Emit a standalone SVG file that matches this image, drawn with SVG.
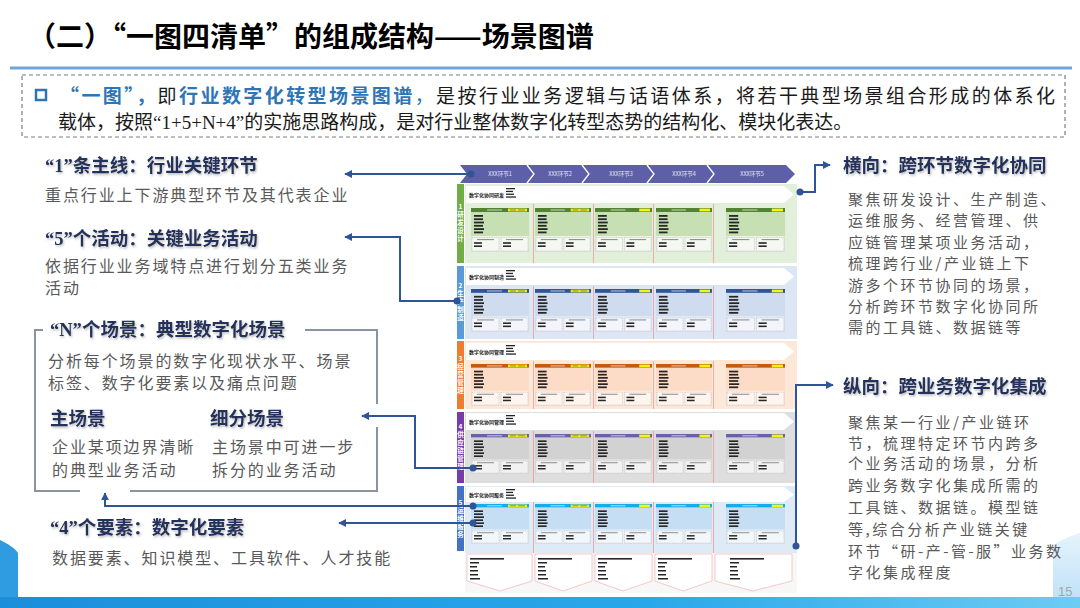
<svg xmlns="http://www.w3.org/2000/svg" xmlns:xlink="http://www.w3.org/1999/xlink" width="1080" height="608" viewBox="0 0 1080 608">
<style>
.title{font-family:"Noto Sans CJK SC",sans-serif;font-weight:700;font-size:28px;fill:#000}
.intro{font-family:"Noto Sans CJK SC",sans-serif;font-size:19px;fill:#1a1a1a}
.blue{fill:#2e75b6;font-weight:700}
.ser{font-family:"Liberation Serif","Noto Sans CJK SC",serif}
.hd{font-family:"Noto Sans CJK SC",sans-serif;font-weight:700;font-size:18.5px;fill:#22325c;filter:url(#sh)}
.hdq{font-family:"Liberation Serif",serif;font-weight:700}
.body{font-family:"Noto Sans CJK SC",sans-serif;font-size:16px;fill:#595959;letter-spacing:1.9px}
.rbody{font-family:"Noto Sans CJK SC",sans-serif;font-size:15px;fill:#595959;letter-spacing:2.5px}
.conn{fill:none;stroke:#2f5597;stroke-width:2}
.dot{fill:#2f5597}
.frame{fill:none;stroke:#8a93a0;stroke-width:2}
.chev{font-family:"Noto Sans CJK SC",sans-serif;font-size:5.5px;fill:#e6e6f5;text-anchor:middle}
.vlab{font-family:"Noto Sans CJK SC",sans-serif;font-size:6.5px;fill:#fff;text-anchor:middle;font-weight:700}
.rh{font-family:"Noto Sans CJK SC",sans-serif;font-size:5px;fill:#1a1a1a;font-weight:700}
.banner{fill:#ffffff}
.sep{stroke:#ec9a9a;stroke-width:0.8}
.bar{fill:#262626}
</style>
<defs>
<filter id="sh" x="-5%" y="-20%" width="110%" height="150%"><feDropShadow dx="1" dy="1.5" stdDeviation="1" flood-color="#808080" flood-opacity="0.55"/></filter>
<linearGradient id="band" x1="0" y1="0" x2="1" y2="0"><stop offset="0" stop-color="#1b8edb"/><stop offset="0.6" stop-color="#2aa7ea"/><stop offset="1" stop-color="#6cccf4"/></linearGradient>
<linearGradient id="rpatch" x1="0" y1="0" x2="0" y2="1"><stop offset="0" stop-color="#e6f3fc"/><stop offset="1" stop-color="#bfe2f8"/></linearGradient>
<marker id="ah" viewBox="0 0 10 10" refX="9" refY="5" markerWidth="4" markerHeight="4" orient="auto"><path d="M0,0 L10,5 L0,10 z" fill="#2f5597"/></marker>
<g id="cardBase">
<rect x="0" y="0" width="58" height="44" fill="#ffffff" fill-opacity="0.35" stroke="#b5b5b5" stroke-width="0.4"/>
<rect x="0" y="0" width="58" height="4" fill="currentColor"/>
<rect x="16" y="1.5" width="15" height="1" fill="#ffffff" fill-opacity="0.7"/>
<rect x="0" y="4" width="58" height="24"/>
<rect class="bar" x="3" y="7" width="9" height="1.8"/>
<rect class="bar" x="3" y="10.3" width="9" height="1.8"/>
<rect class="bar" x="3" y="13.6" width="10" height="1.8"/>
<rect class="bar" x="3" y="16.9" width="9" height="1.8"/>
<rect class="bar" x="3" y="20.2" width="10" height="1.8"/>
<rect class="bar" x="3" y="23.5" width="9" height="1.8"/>
<rect x="1" y="29.5" width="27" height="13.5" fill="#ffffff" fill-opacity="0.4" stroke="#9c9c9c" stroke-width="0.4" stroke-dasharray="1 0.7"/>
<rect x="30" y="29.5" width="27" height="13.5" fill="#ffffff" fill-opacity="0.4" stroke="#9c9c9c" stroke-width="0.4" stroke-dasharray="1 0.7"/>
<rect x="6" y="31.2" width="17" height="0.9" fill="#7a7a7a"/>
<rect x="35" y="31.2" width="17" height="0.9" fill="#7a7a7a"/>
<rect class="bar" x="3" y="34.2" width="8" height="1.6"/>
<rect class="bar" x="3" y="37.4" width="8" height="1.6"/>
<rect class="bar" x="32" y="34.2" width="8" height="1.6"/>
<rect class="bar" x="32" y="37.4" width="8" height="1.6"/>
</g>
<symbol id="cardA" viewBox="0 0 58 44" preserveAspectRatio="none">
<use href="#cardBase"/>
<rect x="37" y="0.6" width="19" height="2.8" fill="#eeee10"/>
<rect x="39" y="1.5" width="6" height="1" fill="#8a8a30"/>
<rect x="47" y="1.5" width="7" height="1" fill="#8a8a30"/>
</symbol>
<symbol id="cardB" viewBox="0 0 58 44" preserveAspectRatio="none">
<use href="#cardBase"/>
<rect x="45" y="0.6" width="11" height="2.8" fill="#f5f510"/>
</symbol>
<g id="bullets">
<rect class="bar" x="0" y="0" width="9" height="1.3"/>
<rect class="bar" x="0" y="2.8" width="7" height="1.3"/>
<rect class="bar" x="0" y="5.6" width="8" height="1.3"/>
<rect class="bar" x="0" y="8.4" width="10" height="1.3"/>
</g>
<g id="foot">
<rect class="bar" x="0" y="0" width="34" height="1.6"/>
<rect class="bar" x="0" y="4" width="9" height="1.5"/>
<rect class="bar" x="0" y="8" width="7" height="1.5"/>
<rect class="bar" x="0" y="12" width="8" height="1.5"/>
<rect class="bar" x="0" y="16" width="8" height="1.5"/>
<rect class="bar" x="0" y="20" width="10" height="1.5"/>
</g>
</defs>

<!-- background -->
<rect x="0" y="0" width="1080" height="608" fill="#ffffff"/>
<path d="M0,540 C8,544 15,548 18,553 L18,598 L0,598 Z" fill="#2f9ce2"/>
<path d="M1053,546 C1060,540 1070,536 1080,533 L1080,598 L1053,598 Z" fill="url(#rpatch)"/>
<rect x="0" y="597" width="1080" height="11" fill="url(#band)"/>

<!-- title -->
<g id="title">
<text class="title" x="28" y="47">（二）“一图四清单”的组成结构——场景图谱</text>
<line x1="10" y1="68" x2="1072" y2="68" stroke="#6ea6dc" stroke-width="3"/>
</g>

<!-- intro box -->
<g id="intro">
<rect x="22" y="75" width="1043" height="62" fill="none" stroke="#7f7f7f" stroke-width="1.2" stroke-dasharray="4 3"/>
<rect x="36" y="90" width="10" height="10" fill="none" stroke="#2e75b6" stroke-width="2.5"/>
<text class="intro" x="60" y="103" textLength="995" lengthAdjust="spacing"><tspan class="blue">“一图”，</tspan>即<tspan class="blue">行业数字化转型场景图谱</tspan><tspan fill="#2e75b6">，</tspan>是按行业业务逻辑与话语体系，将若干典型场景组合形成的体系化</text>
<text class="intro" x="58" y="129">载体，按照<tspan class="ser">“1+5+N+4”</tspan>的实施思路构成，是对行业整体数字化转型态势的结构化、模块化表达。</text>
</g>

<!-- left descriptions -->
<g id="node-line">
<text class="hd" x="45" y="172"><tspan class="hdq">“1”</tspan>条主线：行业关键环节</text>
<text class="body" x="45" y="201">重点行业上下游典型环节及其代表企业</text>
</g>
<g id="node-activity">
<text class="hd" x="45" y="245"><tspan class="hdq">“5”</tspan>个活动：关键业务活动</text>
<text class="body" x="45" y="272">依据行业业务域特点进行划分五类业务</text>
<text class="body" x="45" y="294">活动</text>
</g>
<g id="node-scene">
<path class="frame" d="M43,330 H35 V491 H80 M130,491 H377 V427 M377,404 V330 H305"/>
<text class="hd" x="50" y="336"><tspan class="hdq">“N”</tspan>个场景：典型数字化场景</text>
<text class="body" x="48" y="367">分析每个场景的数字化现状水平、场景</text>
<text class="body" x="48" y="389">标签、数字化要素以及痛点问题</text>
<text class="hd" x="50" y="425">主场景</text>
<text class="hd" x="210" y="425">细分场景</text>
<text class="body" x="52" y="453">企业某项边界清晰</text>
<text class="body" x="52" y="476">的典型业务活动</text>
<text class="body" x="212" y="453">主场景中可进一步</text>
<text class="body" x="212" y="476">拆分的业务活动</text>
</g>
<g id="node-element">
<text class="hd" x="50" y="534"><tspan class="hdq">“4”</tspan>个要素：数字化要素</text>
<text class="body" x="52" y="564">数据要素、知识模型、工具软件、人才技能</text>
</g>

<!-- right descriptions -->
<g id="node-horizontal">
<text class="hd" x="843" y="172">横向：跨环节数字化协同</text>
<text class="rbody" x="848" y="205">聚焦研发设计、生产制造、</text>
<text class="rbody" x="848" y="226">运维服务、经营管理、供</text>
<text class="rbody" x="848" y="248">应链管理某项业务活动，</text>
<text class="rbody" x="848" y="269">梳理跨行业/产业链上下</text>
<text class="rbody" x="848" y="291">游多个环节协同的场景，</text>
<text class="rbody" x="848" y="312">分析跨环节数字化协同所</text>
<text class="rbody" x="848" y="333">需的工具链、数据链等</text>
</g>
<g id="node-vertical">
<text class="hd" x="843" y="393">纵向：跨业务数字化集成</text>
<text class="rbody" x="848" y="428">聚焦某一行业/产业链环</text>
<text class="rbody" x="848" y="449">节，梳理特定环节内跨多</text>
<text class="rbody" x="848" y="469">个业务活动的场景，分析</text>
<text class="rbody" x="848" y="491">跨业务数字化集成所需的</text>
<text class="rbody" x="848" y="513">工具链、数据链。模型链</text>
<text class="rbody" x="848" y="535">等,综合分析产业链关键</text>
<text class="rbody" x="848" y="557">环节“研-产-管-服”业务数</text>
<text class="rbody" x="848" y="578">字化集成程度</text>
</g>

<!-- central scene map -->
<g id="node-map">
<polygon points="460,165 786,165 795,174 786,183 460,183 467,174" fill="#5d5fa8"/>
<g fill="none" stroke="#ffffff" stroke-width="1.3">
<polyline points="527,165 534,174 527,183"/>
<polyline points="582,165 589,174 582,183"/>
<polyline points="647,165 654,174 647,183"/>
<polyline points="707,165 714,174 707,183"/>
</g>
<text class="chev" x="500" y="176">XXX环节1</text>
<text class="chev" x="560" y="176">XXX环节2</text>
<text class="chev" x="621" y="176">XXX环节3</text>
<text class="chev" x="684" y="176">XXX环节4</text>
<text class="chev" x="752" y="176">XXX环节5</text>

<rect x="465" y="184" width="332" height="79" fill="#e2efda"/>
<rect x="465" y="266" width="332" height="73" fill="#dde6f4"/>
<rect x="465" y="341" width="332" height="68" fill="#fde7d6"/>
<rect x="465" y="412" width="332" height="71" fill="#dedede"/>
<rect x="465" y="486" width="332" height="67" fill="#deebf7"/>
<rect x="465" y="553" width="332" height="40" fill="#f7f7f7"/>

<rect x="457" y="184" width="7" height="79" fill="#70ad47"/>
<rect x="457" y="266" width="7" height="73" fill="#5b9bd5"/>
<rect x="457" y="341" width="7" height="68" fill="#ed7d31"/>
<rect x="457" y="412" width="7" height="71" fill="#7a3aa8"/>
<rect x="457" y="486" width="7" height="65" fill="#4472c4"/>
<text class="vlab"><tspan x="460.5" y="209">1</tspan><tspan x="460.5" dy="8">研</tspan><tspan x="460.5" dy="8">发</tspan><tspan x="460.5" dy="8">设</tspan><tspan x="460.5" dy="8">计</tspan></text>
<text class="vlab"><tspan x="460.5" y="288">2</tspan><tspan x="460.5" dy="8">生</tspan><tspan x="460.5" dy="8">产</tspan><tspan x="460.5" dy="8">制</tspan><tspan x="460.5" dy="8">造</tspan></text>
<text class="vlab"><tspan x="460.5" y="361">3</tspan><tspan x="460.5" dy="8">经</tspan><tspan x="460.5" dy="8">营</tspan><tspan x="460.5" dy="8">管</tspan><tspan x="460.5" dy="8">理</tspan></text>
<text class="vlab"><tspan x="460.5" y="429">4</tspan><tspan x="460.5" dy="8">供</tspan><tspan x="460.5" dy="8">应</tspan><tspan x="460.5" dy="8">链</tspan><tspan x="460.5" dy="8">管</tspan><tspan x="460.5" dy="8">理</tspan></text>
<text class="vlab"><tspan x="460.5" y="505">5</tspan><tspan x="460.5" dy="8">运</tspan><tspan x="460.5" dy="8">维</tspan><tspan x="460.5" dy="8">服</tspan><tspan x="460.5" dy="8">务</tspan></text>

<g class="sep">
<line x1="533.5" y1="204" x2="533.5" y2="263"/><line x1="593.5" y1="204" x2="593.5" y2="263"/><line x1="653.5" y1="204" x2="653.5" y2="263"/><line x1="713.5" y1="204" x2="713.5" y2="263"/>
<line x1="533.5" y1="286" x2="533.5" y2="339"/><line x1="593.5" y1="286" x2="593.5" y2="339"/><line x1="653.5" y1="286" x2="653.5" y2="339"/><line x1="713.5" y1="286" x2="713.5" y2="339"/>
<line x1="533.5" y1="361" x2="533.5" y2="409"/><line x1="593.5" y1="361" x2="593.5" y2="409"/><line x1="653.5" y1="361" x2="653.5" y2="409"/><line x1="713.5" y1="361" x2="713.5" y2="409"/>
<line x1="533.5" y1="431" x2="533.5" y2="483"/><line x1="593.5" y1="431" x2="593.5" y2="483"/><line x1="653.5" y1="431" x2="653.5" y2="483"/><line x1="713.5" y1="431" x2="713.5" y2="483"/>
<line x1="533.5" y1="502" x2="533.5" y2="553"/><line x1="593.5" y1="502" x2="593.5" y2="553"/><line x1="653.5" y1="502" x2="653.5" y2="553"/><line x1="713.5" y1="502" x2="713.5" y2="553"/>
</g>

<polygon class="banner" points="466,186 784,186 794,194.5 784,203 466,203"/>
<polygon class="banner" points="466,268 784,268 794,276.5 784,285 466,285"/>
<polygon class="banner" points="466,343 784,343 794,351.5 784,360 466,360"/>
<polygon class="banner" points="466,413 784,413 794,421.5 784,430 466,430"/>
<polygon class="banner" points="466,487 784,487 794,494.5 784,502 466,502"/>
<text class="rh" x="469" y="197">数字化协同研发</text>
<text class="rh" x="469" y="279">数字化协同制造</text>
<text class="rh" x="469" y="354">数字化协同管理</text>
<text class="rh" x="469" y="424">数字化协同管理</text>
<text class="rh" x="469" y="497">数字化协同服务</text>
<use href="#bullets" x="506" y="188"/>
<use href="#bullets" x="506" y="270"/>
<use href="#bullets" x="506" y="345"/>
<use href="#bullets" x="506" y="415"/>
<use href="#bullets" x="506" y="489"/>

<g style="fill:#c6e0b4;color:#548235">
<use href="#cardA" x="471" y="208" width="58" height="44"/>
<use href="#cardA" x="535" y="208" width="56" height="44"/>
<use href="#cardB" x="595" y="208" width="57" height="44"/>
<use href="#cardB" x="656" y="208" width="56" height="44"/>
<use href="#cardB" x="726" y="208" width="59" height="44"/>
</g>
<g style="fill:#cfdcf0;color:#2f5597">
<use href="#cardA" x="471" y="289" width="58" height="43"/>
<use href="#cardA" x="535" y="289" width="56" height="43"/>
<use href="#cardB" x="595" y="289" width="57" height="43"/>
<use href="#cardB" x="656" y="289" width="56" height="43"/>
<use href="#cardB" x="726" y="289" width="59" height="43"/>
</g>
<g style="fill:#fcdcc6;color:#c55a11">
<use href="#cardA" x="471" y="364" width="58" height="42"/>
<use href="#cardA" x="535" y="364" width="56" height="42"/>
<use href="#cardB" x="595" y="364" width="57" height="42"/>
<use href="#cardB" x="656" y="364" width="56" height="42"/>
<use href="#cardB" x="726" y="364" width="59" height="42"/>
</g>
<g style="fill:#d2d2d2;color:#6a62a8">
<use href="#cardA" x="471" y="434" width="58" height="40"/>
<use href="#cardA" x="535" y="434" width="56" height="40"/>
<use href="#cardB" x="595" y="434" width="57" height="40"/>
<use href="#cardB" x="656" y="434" width="56" height="40"/>
<use href="#cardB" x="726" y="434" width="59" height="40"/>
</g>
<g style="fill:#c6def4;color:#12aeea">
<use href="#cardA" x="471" y="504" width="58" height="40"/>
<use href="#cardA" x="535" y="504" width="56" height="40"/>
<use href="#cardB" x="595" y="504" width="57" height="40"/>
<use href="#cardB" x="656" y="504" width="56" height="40"/>
<use href="#cardB" x="726" y="504" width="59" height="40"/>
</g>

<g fill="#ffffff" stroke="#f2b3b3" stroke-width="0.7">
<polygon points="467,554 532,554 532,581 500,591 467,581"/>
<polygon points="535,554 592,554 592,581 563,591 535,581"/>
<polygon points="595,554 652,554 652,581 623,591 595,581"/>
<polygon points="655,554 712,554 712,581 683,591 655,581"/>
<polygon points="715,554 792,554 792,581 753,591 715,581"/>
</g>
<use href="#foot" x="470" y="558"/>
<use href="#foot" x="538" y="558"/>
<use href="#foot" x="598" y="558"/>
<use href="#foot" x="658" y="558"/>
<use href="#foot" x="730" y="558"/>
</g>

<g id="connectors">
<path class="conn" d="M471,174 H345" marker-end="url(#ah)"/>
<path class="conn" d="M457,301 H400 V237 H345" marker-end="url(#ah)"/>
<path class="conn" d="M473,468 H415 V416 H362" marker-end="url(#ah)"/>
<path class="conn" d="M473,506 H105 V493" marker-end="url(#ah)"/>
<path class="conn" d="M473,523 H339" marker-end="url(#ah)"/>
<path class="conn" d="M800,192 H815 V165 H830" marker-end="url(#ah)"/>
<path class="conn" d="M796,546 V385 H833" marker-end="url(#ah)"/>
<circle class="dot" cx="471" cy="174" r="3.5"/>
<circle class="dot" cx="457" cy="301" r="3.5"/>
<circle class="dot" cx="473" cy="468" r="3.5"/>
<circle class="dot" cx="473" cy="506" r="3.5"/>
<circle class="dot" cx="473" cy="523" r="3.5"/>
<circle class="dot" cx="800" cy="192" r="3.5"/>
<circle class="dot" cx="796" cy="546" r="3.5"/>
</g>

<text x="1058" y="596" font-family="Liberation Sans, sans-serif" font-size="13" fill="#a6a6a6">15</text>
</svg>
